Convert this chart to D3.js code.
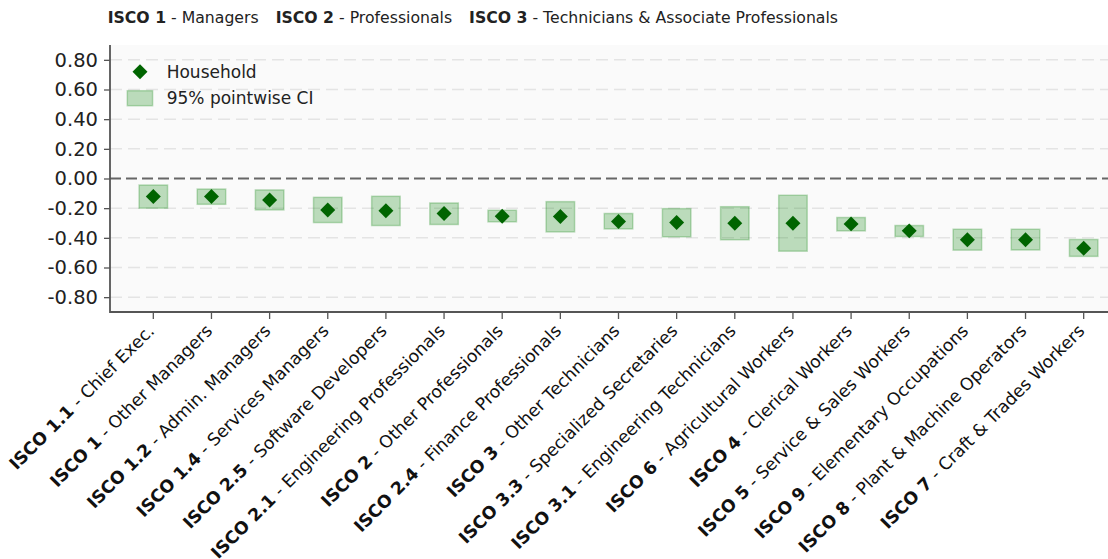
<!DOCTYPE html>
<html>
<head>
<meta charset="utf-8">
<script src="https://cdn.jsdelivr.net/npm/d3@7"></script>
<style>
  body { margin: 0; background: #fff; }
  svg { display: block; font-family: "DejaVu Sans", sans-serif; }
</style>
</head>
<body>
<svg id="chart" width="1108" height="559"></svg>
<script>
// occupation codes and names, in plotted order
const codes = ["ISCO 1.1", "ISCO 1", "ISCO 1.2", "ISCO 1.4", "ISCO 2.5", "ISCO 2.1", "ISCO 2", "ISCO 2.4",
  "ISCO 3", "ISCO 3.3", "ISCO 3.1", "ISCO 6", "ISCO 4", "ISCO 5", "ISCO 9", "ISCO 8", "ISCO 7"];
const names = ["Chief Exec.", "Other Managers", "Admin. Managers", "Services Managers", "Software Developers",
  "Engineering Professionals", "Other Professionals", "Finance Professionals", "Other Technicians",
  "Specialized Secretaries", "Engineering Technicians", "Agricultural Workers", "Clerical Workers",
  "Service & Sales Workers", "Elementary Occupations", "Plant & Machine Operators", "Craft & Trades Workers"];

// household estimate and 95% pointwise CI
const estimate = [-0.122, -0.122, -0.145, -0.212, -0.218, -0.236, -0.254, -0.256, -0.290, -0.297, -0.301,
  -0.301, -0.306, -0.353, -0.413, -0.413, -0.470];
const ciLow = [-0.200, -0.174, -0.212, -0.297, -0.317, -0.310, -0.292, -0.360, -0.340, -0.393, -0.413,
  -0.490, -0.353, -0.391, -0.483, -0.482, -0.525];
const ciHigh = [-0.044, -0.071, -0.077, -0.127, -0.120, -0.165, -0.214, -0.156, -0.236, -0.203, -0.190,
  -0.113, -0.263, -0.317, -0.342, -0.342, -0.411];

const yTicks = [0.8, 0.6, 0.4, 0.2, 0, -0.2, -0.4, -0.6, -0.8];

// header key
const headerCodes = ["ISCO 1", "ISCO 2", "ISCO 3"];
const headerNames = ["Managers", "Professionals", "Technicians & Associate Professionals"];

const svg = d3.select("#chart");
const plot = { left: 110, top: 45, right: 1127, bottom: 312 };

const x = d3.scalePoint()
  .domain(codes)
  .range([plot.left, plot.right])
  .padding(0.745);
const y = d3.scaleLinear()
  .domain([-0.9, 0.9])
  .range([plot.bottom, plot.top]);

const fmt = d => d3.format(".2f")(d).replace("\u2212", "-");

// header line
let hx = 107.7;
headerCodes.forEach((c, i) => {
  const t = svg.append("text")
    .attr("x", hx)
    .attr("y", 22.7)
    .style("font-size", "15.7px")
    .attr("fill", "#222");
  t.append("tspan").style("font-weight", "bold").text(c);
  t.append("tspan").text(" - " + headerNames[i]);
  hx += t.node().getComputedTextLength() + 17;
});

// plot background
svg.append("rect")
  .attr("x", plot.left).attr("y", plot.top)
  .attr("width", plot.right - plot.left).attr("height", plot.bottom - plot.top)
  .attr("fill", "#fafafa");

// grid
svg.append("g").selectAll("line")
  .data(yTicks.filter(d => d !== 0))
  .join("line")
  .attr("x1", plot.left).attr("x2", plot.right)
  .attr("y1", d => y(d)).attr("y2", d => y(d))
  .attr("stroke", "#e4e4e4")
  .attr("stroke-width", 1.5)
  .attr("stroke-dasharray", "12,6");

// zero line
svg.append("line")
  .attr("x1", plot.left).attr("x2", plot.right)
  .attr("y1", y(0)).attr("y2", y(0))
  .attr("stroke", "#666")
  .attr("stroke-width", 2)
  .attr("stroke-dasharray", "11,5");

// CI boxes
const boxW = x.step() * 0.49;
svg.append("g").selectAll("rect")
  .data(codes)
  .join("rect")
  .attr("x", d => x(d) - boxW / 2)
  .attr("width", boxW)
  .attr("y", (d, i) => y(ciHigh[i]))
  .attr("height", (d, i) => y(ciLow[i]) - y(ciHigh[i]))
  .attr("fill", "green").attr("fill-opacity", 0.25)
  .attr("stroke", "green").attr("stroke-opacity", 0.25).attr("stroke-width", 1.5);

// point estimates
const diamond = d3.symbol(d3.symbolSquare, 112);
svg.append("g").selectAll("path")
  .data(codes)
  .join("path")
  .attr("d", diamond)
  .attr("transform", (d, i) => `translate(${x(d)},${y(estimate[i])}) rotate(45)`)
  .attr("fill", "#006400");

// y axis
const yAxis = svg.append("g")
  .attr("transform", `translate(${plot.left},0)`)
  .call(d3.axisLeft(y).tickValues(yTicks).tickFormat(fmt).tickSize(6).tickPadding(6));
yAxis.select(".domain").remove();
yAxis.selectAll(".tick line").attr("stroke", "#555").attr("stroke-width", 1.3);
yAxis.selectAll(".tick text")
  .style("font-family", "DejaVu Sans, sans-serif")
  .style("font-size", "19.5px")
  .attr("fill", "#222");

// x axis ticks
svg.append("g").selectAll("line")
  .data(codes)
  .join("line")
  .attr("x1", d => x(d)).attr("x2", d => x(d))
  .attr("y1", plot.bottom).attr("y2", plot.bottom + 7)
  .attr("stroke", "#555").attr("stroke-width", 1.3);

// spines
svg.append("path")
  .attr("d", `M${plot.left},${plot.top}V${plot.bottom}H${plot.right}`)
  .attr("fill", "none")
  .attr("stroke", "#555")
  .attr("stroke-width", 1.8);

// x labels
const xl = svg.append("g").selectAll("text")
  .data(codes)
  .join("text")
  .attr("text-anchor", "end")
  .attr("transform", d => `translate(${x(d) + 2},${plot.bottom + 20}) rotate(-45)`)
  .style("font-size", "17.3px")
  .attr("fill", "#111");
xl.append("tspan").style("font-weight", "bold").text(d => d);
xl.append("tspan").text((d, i) => " - " + names[i]);

// legend
const legend = svg.append("g").style("font-size", "17px").attr("fill", "#222");
legend.append("path")
  .attr("d", diamond)
  .attr("transform", "translate(140,71.7) rotate(45)")
  .attr("fill", "#006400");
legend.append("text").attr("x", 166.7).attr("y", 77.8).text("Household");
legend.append("rect")
  .attr("x", 127.3).attr("y", 90.7).attr("width", 25.3).attr("height", 15)
  .attr("fill", "green").attr("fill-opacity", 0.25)
  .attr("stroke", "green").attr("stroke-opacity", 0.25).attr("stroke-width", 1.5);
legend.append("text").attr("x", 166.7).attr("y", 104.2).text("95% pointwise CI");
</script>
</body>
</html>
